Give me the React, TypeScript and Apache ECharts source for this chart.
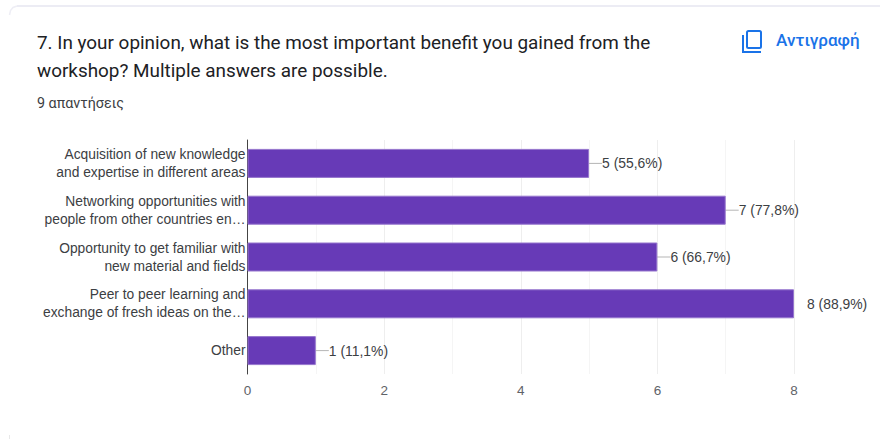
import React, { useEffect, useRef } from "react";
import * as echarts from "echarts";

const categories = [
  "Acquisition of new knowledge\nand expertise in different areas",
  "Networking opportunities with\npeople from other countries en…",
  "Opportunity to get familiar with\nnew material and fields",
  "Peer to peer learning and\nexchange of fresh ideas on the…",
  "Other",
];
const counts = [5, 7, 6, 8, 1];
const shares = ["55,6", "77,8", "66,7", "88,9", "11,1"];
const titleLines = [
  "7. In your opinion, what is the most important benefit you gained from the",
  "workshop? Multiple answers are possible.",
];
const responsesText = "9 απαντήσεις";
const copyText = "Αντιγραφή";

const SANS = "Roboto";
const CHART_FONT = "Liberation Sans";

export default function App() {
  const ref = useRef<HTMLDivElement>(null);
  useEffect(() => {
    const chart = echarts.init(ref.current!, null, { renderer: "svg" });
    chart.setOption({
      animation: false,
      backgroundColor: "#ffffff",
      grid: { left: 247.5, right: 86, top: 140, bottom: 65, containLabel: false },
      xAxis: {
        type: "value",
        min: 0,
        max: 8,
        interval: 2,
        axisLine: { show: false },
        axisTick: { show: false },
        axisLabel: { color: "#5f6368", fontFamily: CHART_FONT, fontSize: 13.5, margin: 9 },
        splitLine: { show: true, lineStyle: { color: "#eeeeee", width: 1 } },
        minorTick: { show: false, splitNumber: 2 },
        minorSplitLine: { show: true, lineStyle: { color: "#f5f5f5", width: 1 } },
      },
      yAxis: {
        type: "category",
        inverse: true,
        data: categories,
        axisLine: { show: true, onZero: false, lineStyle: { color: "#444444", width: 1 } },
        axisTick: { show: false },
        splitLine: { show: false },
        axisLabel: {
          color: "#3c4043",
          fontFamily: CHART_FONT,
          fontSize: 13.8,
          lineHeight: 18,
          margin: 2,
          interval: 0,
          align: "right",
        },
      },
      series: [
        {
          type: "bar",
          data: counts.map((value) => ({
            value,
            labelLine: { show: value !== 8 },
          })),
          barWidth: 29,
          itemStyle: { color: "#673ab7", borderColor: "#9575cd", borderWidth: 1 },
          label: {
            show: true,
            position: "right",
            distance: 0,
            color: "#3c4043",
            fontFamily: CHART_FONT,
            fontSize: 13.9,
            formatter: (p: any) => `${p.value} (${shares[p.dataIndex]}%)`,
          },
          labelLayout: { dx: 13 },
          labelLine: { show: true, lineStyle: { color: "#b5b5b5", width: 1 } },
        },
      ],
      graphic: [
        {
          type: "line",
          silent: true,
          shape: { x1: 17, y1: 6, x2: 880, y2: 6 },
          style: { stroke: "#e6e6f0", lineWidth: 1.5 },
        },
        {
          type: "polyline",
          silent: true,
          shape: { points: [[9.5, 15], [10.5, 10.5], [13, 7.5], [17, 6]] },
          style: { fill: "none", stroke: "#eeeef5", lineWidth: 1.5 },
        },
        {
          type: "line",
          silent: true,
          shape: { x1: 9.5, y1: 435, x2: 9.5, y2: 439 },
          style: { stroke: "#e8e8e8", lineWidth: 1 },
        },
        {
          type: "text",
          left: 37,
          top: 33,
          style: { text: titleLines[0], fill: "#202124", font: `400 18.9px ${SANS}` },
        },
        {
          type: "text",
          left: 37,
          top: 61,
          style: { text: titleLines[1], fill: "#202124", font: `400 18.9px ${SANS}` },
        },
        {
          type: "text",
          left: 37,
          top: 96,
          style: { text: responsesText, fill: "#3c4043", font: `400 14.3px ${SANS}` },
        },
        {
          type: "text",
          left: 776,
          top: 31,
          style: { text: copyText, fill: "#1a73e8", font: `500 17.1px ${SANS}` },
        },
        {
          type: "rect",
          silent: true,
          shape: { x: 747, y: 31, width: 14, height: 17, r: 1.5 },
          style: { fill: "none", stroke: "#1a73e8", lineWidth: 2 },
        },
        {
          type: "polyline",
          silent: true,
          shape: { points: [[743, 35], [743, 52], [761, 52]] },
          style: { fill: "none", stroke: "#1a73e8", lineWidth: 2 },
        },
      ],
    });
    return () => chart.dispose();
  }, []);
  return <div ref={ref} style={{ position: "fixed", left: 0, top: 0, width: 880, height: 439 }} />;
}
